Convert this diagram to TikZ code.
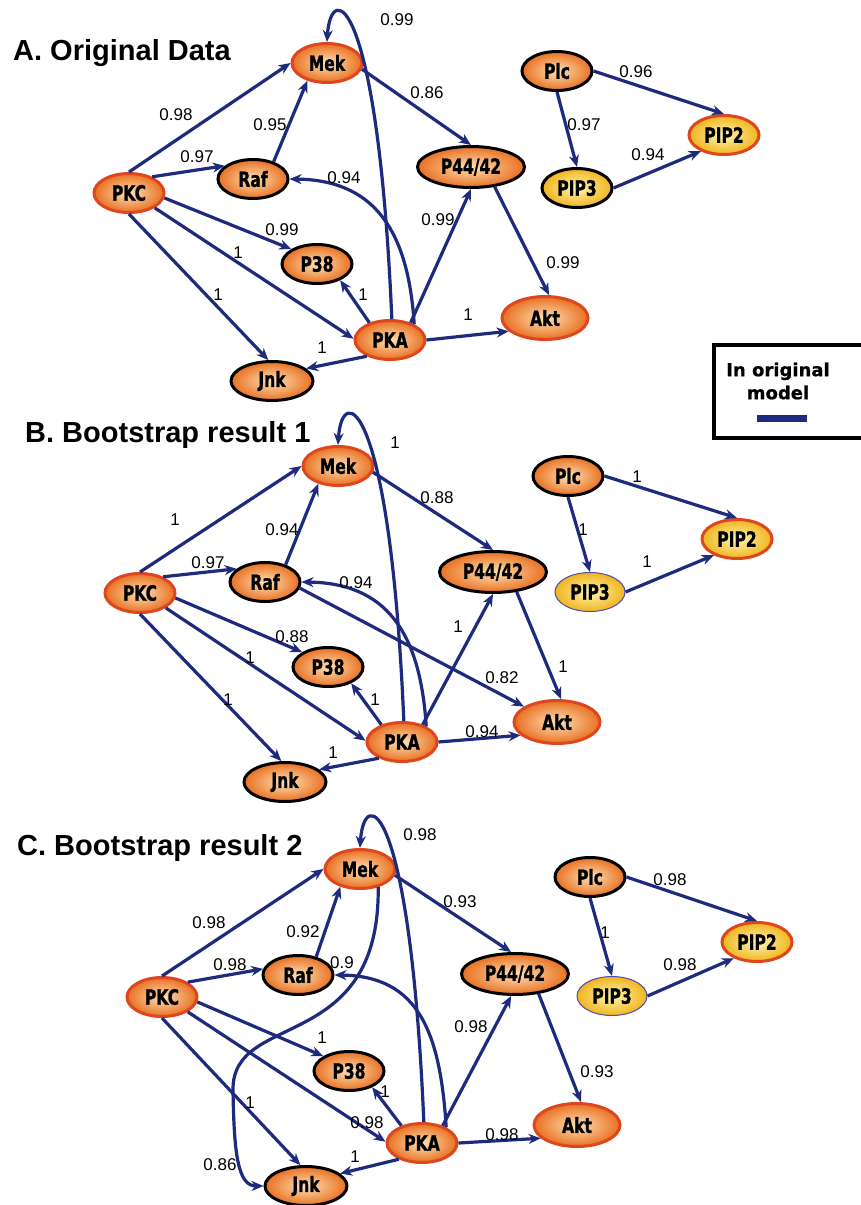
\documentclass[tikz,border=0pt]{standalone}
\usepackage{fontspec}
\setmainfont{Liberation Sans}
\newfontfamily\nodefont[FakeStretch=0.74, FakeBold=1.2]{DejaVu Sans Bold}
\newfontfamily\legfont[FakeBold=0.8]{DejaVu Sans Bold}
\usetikzlibrary{shapes.geometric,arrows.meta}

\definecolor{edgeblue}{RGB}{30,42,125}
\definecolor{ringred}{RGB}{222,70,30}
\definecolor{fillin}{RGB}{255,226,180}
\definecolor{fillout}{RGB}{232,112,34}
\definecolor{yellin}{RGB}{255,246,175}
\definecolor{yellout}{RGB}{240,180,30}

\tikzset{
  protein/.style = {ellipse, minimum width=70pt, minimum height=39pt, inner sep=0pt,
    shade, inner color=fillin, outer color=fillout, line width=3pt,
    font=\nodefont\fontsize{21}{21}\selectfont},
  redring/.style = {protein, draw=ringred},
  blackring/.style = {protein, draw=black},
  lipid/.style = {inner color=yellin, outer color=yellout},
  thinring/.style = {protein, lipid, draw=gray!60!blue, line width=1pt},
  link/.style = {draw=edgeblue, line width=3.2pt, -{Stealth[length=12pt,width=10pt]}},
  weight/.style = {font=\fontsize{17}{17}\selectfont, inner sep=0pt},
  paneltitle/.style = {anchor=base west, inner sep=0pt, font=\bfseries\fontsize{29}{29}\selectfont},
}

\begin{document}
\begin{tikzpicture}[x=1pt, y=-1pt]
\useasboundingbox (0,0) rectangle (860,1205);

% A. original data
\node[paneltitle] (titleA) at (13,60) {A. Original Data};
\node[redring]   (aMek) at (327,63)  {Mek};
\node[redring]   (aPKC) at (129,193) {PKC};
\node[blackring] (aRaf) at (253,179) {Raf};
\node[blackring] (aP38) at (317,264) {P38};
\node[redring]   (aPKA) at (390,340) {PKA};
\node[blackring, minimum width=82pt] (aJnk) at (272,381) {Jnk};
\node[blackring, minimum width=107pt, minimum height=41pt] (aP44) at (471,167) {P44/42};
\node[redring, minimum width=86pt, minimum height=43pt] (aAkt) at (545,318) {Akt};
\node[blackring] (aPlc) at (557,71)  {Plc};
\node[redring, lipid]   (aPIP2) at (724,135) {PIP2};
\node[blackring, lipid] (aPIP3) at (577,188) {PIP3};

\draw[link] (aPKA.85) .. controls +(-14,-325) and +(4,-62) .. (aMek.north) node[weight] (a1) at (397,20) {0.99};
\draw[link] (aPKA.33) .. controls +(-6,-95) and +(84,1) .. (aRaf.east) node[weight] (a2) at (344,178) {0.94};
\draw[link] (aPKC.north) -- (aMek.west) node[weight] (a3) at (176,115) {0.98};
\draw[link] (aPKC.35) -- (aRaf.155) node[weight] (a4) at (197,157) {0.97};
\draw[link] (aRaf.40) -- (aMek.222) node[weight] (a5) at (270,125) {0.95};
\draw[link] (aPKC.-8) -- (aP38.150) node[weight] (a6) at (282,230) {0.99};
\draw[link] (aPKC.-30) -- (aPKA.178) node[weight] (a7) at (238,253) {1};
\draw[link] (aPKC.south) -- (aJnk.100) node[weight] (a8) at (218,295) {1};
\draw[link] (aPKA.140) -- (aP38.-35) node[weight] (a9) at (363,295) {1};
\draw[link] (aPKA.215) -- (aJnk.20) node[weight] (a10) at (322,348) {1};
\draw[link] (aMek.-10) -- (aP44.north) node[weight] (a11) at (427,93) {0.86};
\draw[link] (aPKA.40) -- (aP44.south) node[weight] (a12) at (438,220) {0.99};
\draw[link] (aPKA.east) -- (aAkt.200) node[weight] (a13) at (468,315) {1};
\draw[link] (aP44.-40) -- (aAkt.80) node[weight] (a14) at (563,263) {0.99};
\draw[link] (aPlc.east) -- (aPIP2.north) node[weight] (a15) at (636,72) {0.96};
\draw[link] (aPlc.south) -- (aPIP3.north) node[weight] (a16) at (584,125) {0.97};
\draw[link] (aPIP3.east) -- (aPIP2.215) node[weight] (a17) at (648,155) {0.94};

% legend
\node[draw, line width=3.5pt, anchor=north west, minimum width=170pt, minimum height=93pt] (legbox) at (712,343) {};
\node[align=center, inner sep=0pt, font=\legfont\fontsize{18}{23}\selectfont] (legtext) at (778,381) {In original\\model};
\draw[edgeblue, line width=7pt] (757,418) -- (807,418);

% B. bootstrap result 1
\node[paneltitle] (titleB) at (25,442) {B. Bootstrap result 1};
\node[redring]   (bMek) at (338,466) {Mek};
\node[redring]   (bPKC) at (140,593) {PKC};
\node[blackring] (bRaf) at (265,582) {Raf};
\node[blackring] (bP38) at (328,667) {P38};
\node[redring]   (bPKA) at (402,742) {PKA};
\node[blackring, minimum width=82pt] (bJnk) at (285,782) {Jnk};
\node[blackring, minimum width=107pt, minimum height=41pt] (bP44) at (493,572) {P44/42};
\node[redring, minimum width=86pt, minimum height=43pt] (bAkt) at (557,722) {Akt};
\node[blackring] (bPlc) at (568,476) {Plc};
\node[redring, lipid] (bPIP2) at (737,539) {PIP2};
\node[thinring]       (bPIP3) at (590,592) {PIP3};

\draw[link] (bPKA.85) .. controls +(-14,-325) and +(4,-62) .. (bMek.north) node[weight] (b1) at (395,443) {1};
\draw[link] (bPKA.33) .. controls +(-6,-95) and +(84,1) .. (bRaf.east) node[weight] (b2) at (356,583) {0.94};
\draw[link] (bPKC.north) -- (bMek.west) node[weight] (b3) at (175,520) {1};
\draw[link] (bPKC.35) -- (bRaf.155) node[weight] (b4) at (208,563) {0.97};
\draw[link] (bRaf.40) -- (bMek.222) node[weight] (b5) at (282,530) {0.94};
\draw[link] (bPKC.-8) -- (bP38.150) node[weight] (b6) at (292,637) {0.88};
\draw[link] (bPKC.-30) -- (bPKA.178) node[weight] (b7) at (250,658) {1};
\draw[link] (bPKC.south) -- (bJnk.100) node[weight] (b8) at (228,700) {1};
\draw[link] (bPKA.140) -- (bP38.-35) node[weight] (b9) at (375,700) {1};
\draw[link] (bPKA.215) -- (bJnk.20) node[weight] (b10) at (333,753) {1};
\draw[link] (bMek.-10) -- (bP44.north) node[weight] (b11) at (437,498) {0.88};
\draw[link] (bPKA.40) -- (bP44.south) node[weight] (b12) at (458,627) {1};
\draw[link] (bPKA.east) -- (bAkt.200) node[weight] (b13) at (482,732) {0.94};
\draw[link] (bP44.-40) -- (bAkt.80) node[weight] (b14) at (563,667) {1};
\draw[link] (bPlc.east) -- (bPIP2.north) node[weight] (b15) at (637,477) {1};
\draw[link] (bPlc.south) -- (bPIP3.north) node[weight] (b16) at (583,530) {1};
\draw[link] (bPIP3.east) -- (bPIP2.215) node[weight] (b17) at (647,562) {1};
\draw[link] (bRaf.-10) -- (bAkt.155) node[weight] (b18) at (502,678) {0.82};

% C. bootstrap result 2
\node[paneltitle] (titleC) at (17,855) {C. Bootstrap result 2};
\node[redring]   (cMek) at (360,869)  {Mek};
\node[redring]   (cPKC) at (162,997)  {PKC};
\node[blackring] (cRaf) at (298,975)  {Raf};
\node[blackring] (cP38) at (349,1071) {P38};
\node[redring]   (cPKA) at (422,1143) {PKA};
\node[blackring, minimum width=82pt] (cJnk) at (306,1186) {Jnk};
\node[blackring, minimum width=107pt, minimum height=41pt] (cP44) at (515,974) {P44/42};
\node[redring, minimum width=86pt, minimum height=43pt] (cAkt) at (577,1125) {Akt};
\node[blackring] (cPlc) at (590,877) {Plc};
\node[redring, lipid] (cPIP2) at (757,942) {PIP2};
\node[thinring]       (cPIP3) at (612,996) {PIP3};

\draw[link] (cPKA.85) .. controls +(-14,-325) and +(4,-62) .. (cMek.north) node[weight] (c1) at (420,835) {0.98};
\draw[link] (cPKA.33) .. controls +(-6,-95) and +(84,1) .. (cRaf.east) node[weight] (c2) at (342,963) {0.9};
\draw[link] (cPKC.north) -- (cMek.west) node[weight] (c3) at (209,923) {0.98};
\draw[link] (cPKC.30) -- (cRaf.170) node[weight] (c4) at (230,965) {0.98};
\draw[link] (cRaf.45) -- (cMek.222) node[weight] (c5) at (303,932) {0.92};
\draw[link] (cPKC.-8) -- (cP38.150) node[weight] (c6) at (322,1038) {1};
\draw[link] (cPKC.-30) -- (cPKA.178) node[weight] (c7) at (367,1123) {0.98};
\draw[link] (cPKC.south) -- (cJnk.105) node[weight] (c8) at (250,1103) {1};
\draw[link] (cPKA.140) -- (cP38.-35) node[weight] (c9) at (385,1092) {1};
\draw[link] (cPKA.215) -- (cJnk.20) node[weight] (c10) at (355,1157) {1};
\draw[link] (cMek.-10) -- (cP44.100) node[weight] (c11) at (460,902) {0.93};
\draw[link] (cPKA.40) -- (cP44.-100) node[weight] (c12) at (471,1027) {0.98};
\draw[link] (cPKA.east) -- (cAkt.200) node[weight] (c13) at (502,1135) {0.98};
\draw[link] (cP44.-40) -- (cAkt.80) node[weight] (c14) at (597,1072) {0.93};
\draw[link] (cPlc.east) -- (cPIP2.north) node[weight] (c15) at (670,880) {0.98};
\draw[link] (cPlc.south) -- (cPIP3.north) node[weight] (c16) at (605,933) {1};
\draw[link] (cPIP3.east) -- (cPIP2.215) node[weight] (c17) at (680,965) {0.98};
\coordinate (cbend) at (233,1090);
\draw[link] (cMek.-45) .. controls (380,1055) and (232,1010) .. (cbend)
  .. controls (234,1155) and (238,1186) .. (cJnk.west) node[weight] (c18) at (220,1165) {0.86};
\end{tikzpicture}
\end{document}
